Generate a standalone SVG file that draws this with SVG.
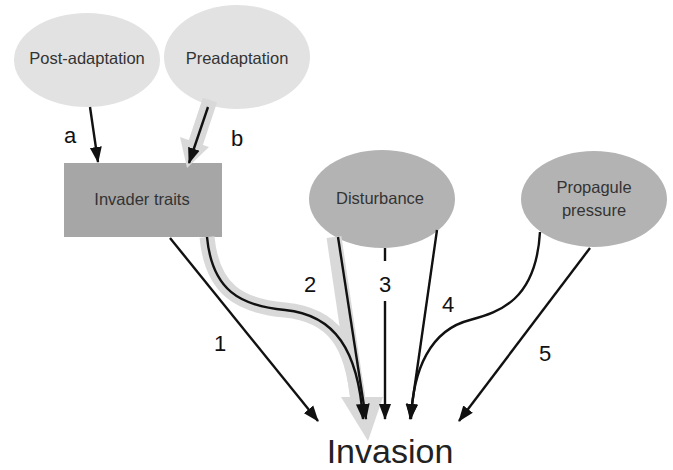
<svg xmlns="http://www.w3.org/2000/svg" width="673" height="470" viewBox="0 0 673 470">
<style>
.lt{fill:#e2e2e2}
.dk{fill:#b3b3b3}
.nt{font-family:"Liberation Sans",Arial,sans-serif;font-size:16.5px;fill:#333;text-anchor:middle}
.lb{font-family:"Liberation Sans",Arial,sans-serif;font-size:22px;fill:#111;text-anchor:middle}
.ln{fill:none;stroke:#111;stroke-width:2.4}
.bd{fill:none;stroke:#d9d9d9;stroke-width:15}
</style>
<defs>
<marker id="ah" viewBox="0 0 16 12" refX="15" refY="6" markerWidth="16" markerHeight="13" markerUnits="userSpaceOnUse" orient="auto">
<path d="M0,0 L16,6 L0,12 z" fill="#111"/>
</marker>
</defs>
<rect width="673" height="470" fill="#fff"/>
<g id="post-adaptation"><ellipse class="lt" cx="87" cy="60" rx="73" ry="47"/><text class="nt" x="87" y="64">Post-adaptation</text></g>
<g id="preadaptation"><ellipse class="lt" cx="237" cy="57" rx="73" ry="52"/><text class="nt" x="237" y="64">Preadaptation</text></g>
<g id="invader-traits"><rect x="64" y="163" width="158" height="74" fill="#a6a6a6"/><text class="nt" x="142" y="205">Invader traits</text></g>
<g id="disturbance"><ellipse class="dk" cx="382" cy="199" rx="73" ry="49"/><text class="nt" x="380" y="204">Disturbance</text></g>
<g id="propagule-pressure"><ellipse class="dk" cx="594" cy="199" rx="73" ry="48"/><text class="nt" x="594" y="193">Propagule</text><text class="nt" x="594" y="216">pressure</text></g>
<g id="invasion"><text x="390" y="463" font-family="'Liberation Sans',Arial,sans-serif" font-size="34" fill="#222" text-anchor="middle">Invasion</text></g>
<g id="connectors">
<path class="bd" stroke-width="13" d="M210,100 L195,145"/>
<polygon points="180,137 209,147 187,168" fill="#d9d9d9"/>
<path class="bd" d="M207,237 C212,290 240,306 285,310 C335,315 352,345 358,400"/>
<path class="bd" stroke-width="12" d="M334,237 L358,400"/>
<polygon points="341,397 383,397 368,441" fill="#d9d9d9"/>
<path class="ln" marker-end="url(#ah)" d="M90,107 L98,162"/>
<path class="ln" marker-end="url(#ah)" d="M208,107 L189,163"/>
<path class="ln" marker-end="url(#ah)" d="M170,238 L318,421"/>
<path class="ln" marker-end="url(#ah)" d="M207,237 C212,290 240,306 285,310 C335,315 358,350 363,419"/>
<path class="ln" marker-end="url(#ah)" d="M338,237 L366,419"/>
<path class="ln" d="M385,248 L385,261"/>
<path class="ln" marker-end="url(#ah)" d="M385,301 L385,419"/>
<path class="ln" marker-end="url(#ah)" d="M437,230 L410,419"/>
<path class="ln" marker-end="url(#ah)" d="M540,232 C536,300 500,312 470,320 C430,330 413,370 411,419"/>
<path class="ln" marker-end="url(#ah)" d="M590,248 L459,421"/>
<text class="lb" x="70" y="143">a</text>
<text class="lb" x="237" y="146">b</text>
<text class="lb" x="220" y="351">1</text>
<text class="lb" x="310" y="292">2</text>
<text class="lb" x="385" y="292">3</text>
<text class="lb" x="448" y="312">4</text>
<text class="lb" x="545" y="361">5</text>
</g>
</svg>
